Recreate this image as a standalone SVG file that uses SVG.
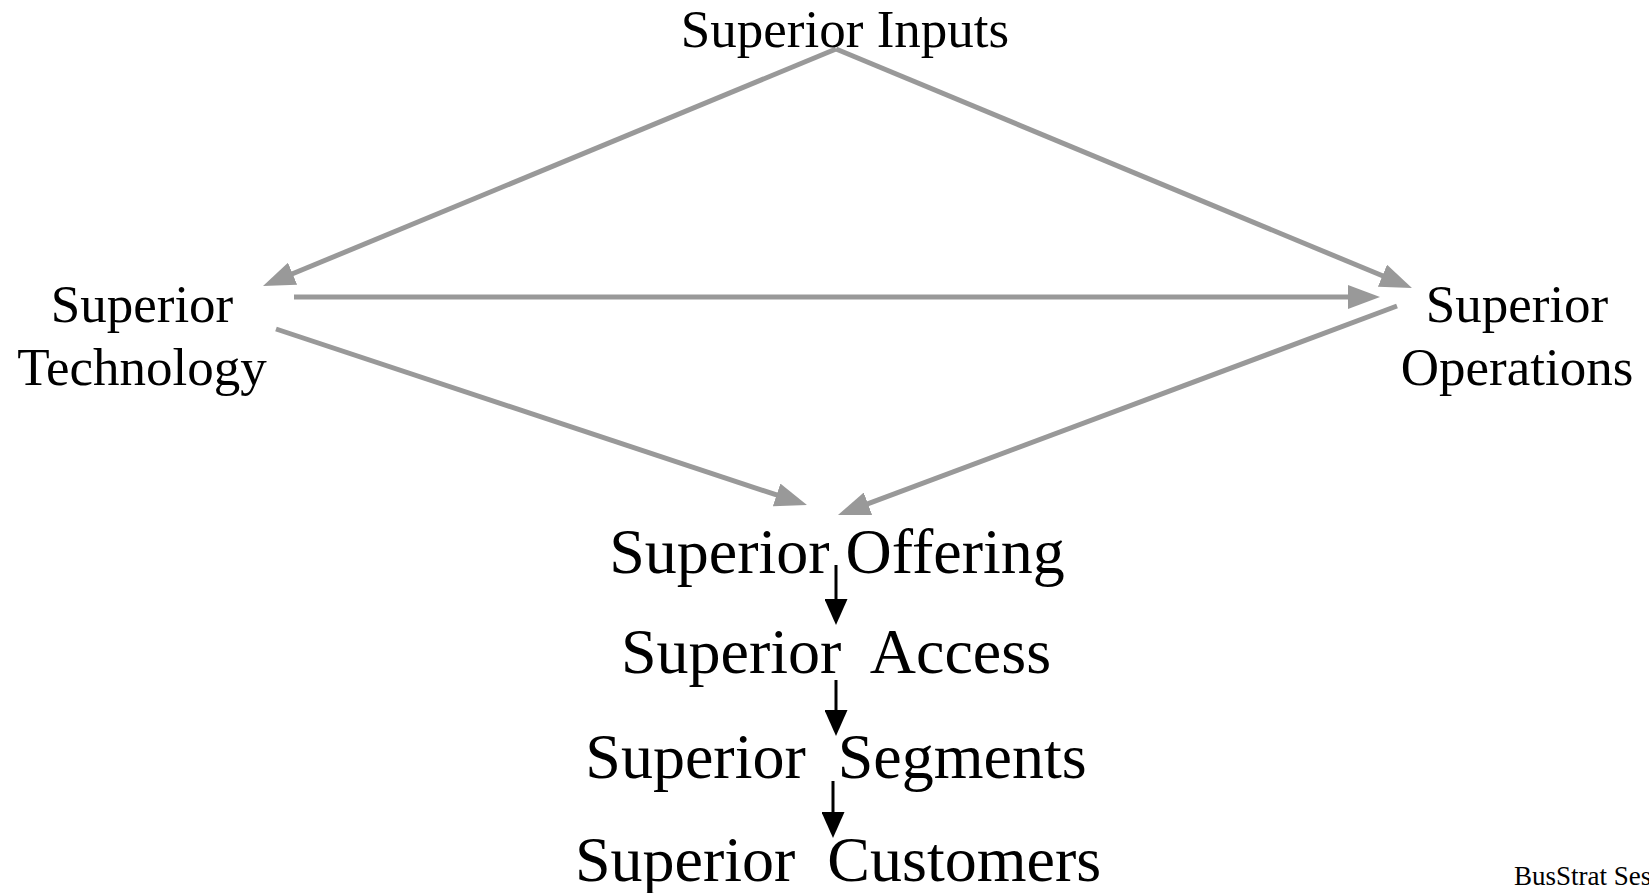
<svg xmlns="http://www.w3.org/2000/svg" width="1649" height="893" viewBox="0 0 1649 893">
<style>
text{font-family:"Liberation Serif","Times New Roman",serif;fill:#000;white-space:pre}
.m{font-size:53px;text-anchor:middle}
.b{font-size:64px;text-anchor:middle}
.g{stroke:#999;stroke-width:5;fill:none}
.k{stroke:#000;stroke-width:3;fill:none}
</style>
<defs>
<marker id="ag" markerUnits="userSpaceOnUse" markerWidth="32" markerHeight="24" refX="4" refY="12" orient="auto" viewBox="0 0 32 24"><path d="M0,0 L32,12 L0,24 z" fill="#999"/></marker>
<marker id="ak" markerUnits="userSpaceOnUse" markerWidth="26" markerHeight="23" refX="4" refY="11.5" orient="auto" viewBox="0 0 26 23"><path d="M0,0 L26,11.5 L0,23 z" fill="#000"/></marker>
</defs>
<rect width="1649" height="893" fill="#fff"/>
<g id="connectors">
<line class="g" x1="836" y1="49" x2="288.9" y2="275.3" marker-end="url(#ag)"/>
<line class="g" x1="836" y1="49" x2="1386.1" y2="277.3" marker-end="url(#ag)"/>
<line class="g" x1="294" y1="297" x2="1352" y2="297" marker-end="url(#ag)"/>
<line class="g" x1="276" y1="329" x2="780.4" y2="496.2" marker-end="url(#ag)"/>
<line class="g" x1="1397" y1="306" x2="864.2" y2="505.2" marker-end="url(#ag)"/>
<line class="k" x1="836" y1="565" x2="836" y2="603" marker-end="url(#ak)"/>
<line class="k" x1="836" y1="680" x2="836" y2="714" marker-end="url(#ak)"/>
<line class="k" x1="833" y1="781" x2="833" y2="816" marker-end="url(#ak)"/>
</g>
<g id="inputs"><text class="m" x="845" y="47">Superior Inputs</text></g>
<g id="technology"><text class="m" x="142" y="322">Superior</text><text class="m" x="142" y="385">Technology</text></g>
<g id="operations"><text class="m" x="1517" y="322">Superior</text><text class="m" x="1517" y="385">Operations</text></g>
<g id="offering"><text class="b" x="837" y="573">Superior Offering</text></g>
<g id="access"><text class="b" x="836" y="673">Superior  Access</text></g>
<g id="segments"><text class="b" x="836" y="778">Superior  Segments</text></g>
<g id="customers"><text class="b" x="838" y="881">Superior  Customers</text></g>
<g id="footer"><text x="1514" y="885" style="font-size:27px">BusStrat Ses</text></g>
</svg>
